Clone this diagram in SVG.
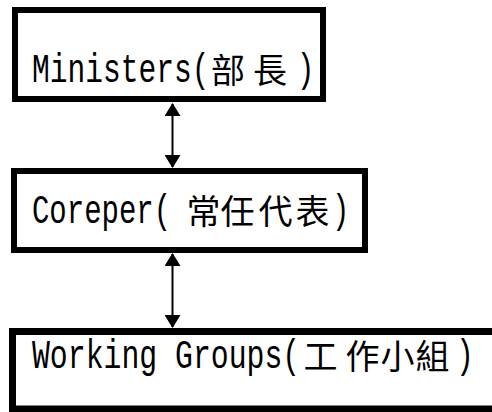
<svg xmlns="http://www.w3.org/2000/svg" width="492" height="412" viewBox="0 0 492 412">
<style>
.box{fill:#fff;stroke:#000;stroke-width:6}
.lat{font-family:"Liberation Mono","Courier New",monospace;font-size:40px;fill:#000}
.cjk{font-family:"Noto Sans CJK TC","Noto Sans CJK SC",sans-serif;font-size:34px;fill:#000}
.conn{stroke:#000;stroke-width:2;fill:none;marker-start:url(#ah);marker-end:url(#ah)}
</style>
<defs>
<marker id="ah" viewBox="0 0 13 16" refX="12" refY="8" markerWidth="13" markerHeight="16" markerUnits="userSpaceOnUse" orient="auto-start-reverse">
<path d="M0,0 L13,8 L0,16 z" fill="#000"/>
</marker>
</defs>
<rect width="492" height="412" fill="#fff"/>
<g id="ministers">
<rect class="box" x="15" y="10" width="308" height="89"/>
<text class="lat" transform="translate(0,82) scale(0.74,1)" x="43.2">Ministers(</text>
<text class="cjk" x="211 253" y="83">部長</text>
<text class="lat" transform="translate(0,82) scale(0.74,1)" x="401">)</text>
</g>
<g id="coreper">
<rect class="box" x="14" y="171" width="351" height="79"/>
<text class="lat" transform="translate(0,223) scale(0.725,1)" x="44.1">Coreper(</text>
<text class="cjk" x="186.5 220.5 258.5 295.5" y="224">常任代表</text>
<text class="lat" transform="translate(0,223) scale(0.725,1)" x="458">)</text>
</g>
<g id="working-groups">
<rect class="box" x="12.5" y="331.5" width="490" height="77.5" style="stroke-width:7"/>
<text class="lat" transform="translate(0,368) scale(0.745,1)" x="42.95">Working Groups(</text>
<text class="cjk" x="303.5 345.5 380.5 415.5" y="369">工作小組</text>
<text class="lat" transform="translate(0,368) scale(0.745,1)" x="612">)</text>
</g>
<g id="connectors">
<line class="conn" x1="172.5" y1="104" x2="172.5" y2="167"/>
<line class="conn" x1="172.5" y1="254" x2="172.5" y2="327"/>
</g>
</svg>
